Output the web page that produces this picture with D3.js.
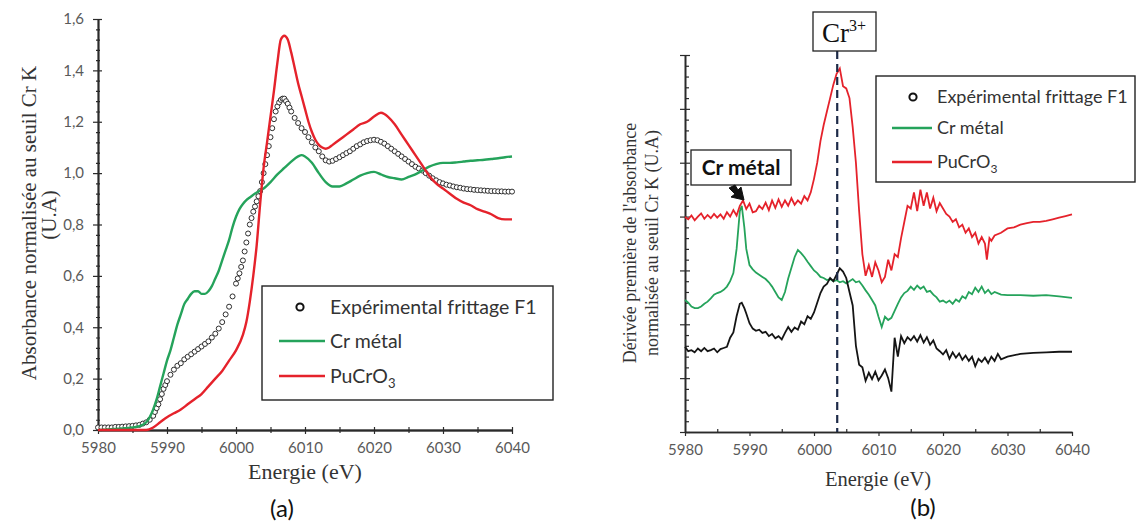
<!DOCTYPE html>
<html>
<head>
<meta charset="utf-8">
<script src="https://cdn.jsdelivr.net/npm/d3@7"></script>
<style>
body{margin:0;background:#fff}
svg{display:block}
</style>
</head>
<body>
<svg id="chart" width="1137" height="522"></svg>
<script>

// ---- panel (a) : normalised absorbance ----
const xTicksA = [5980,5990,6000,6010,6020,6030,6040];
const yTicksA = [0,0.2,0.4,0.6,0.8,1.0,1.2,1.4,1.6];

const expA = [
[5980,0.01],[5980.5,0.01],[5981,0.01],[5981.5,0.01],[5982,0.01],[5982.5,0.012],[5983,0.012],[5983.5,0.013],
[5984,0.014],[5984.5,0.015],[5985,0.016],[5985.5,0.018],[5986,0.02],[5986.5,0.025],[5987,0.03],[5987.5,0.04],
[5988,0.055],[5988.25,0.07],[5988.5,0.085],[5988.75,0.1],[5989,0.12],[5989.25,0.14],[5989.5,0.16],[5989.75,0.175],
[5990,0.19],[5990.5,0.215],[5991,0.235],[5991.5,0.25],
[5992,0.26],[5992.5,0.275],[5993,0.285],[5993.5,0.295],[5994,0.305],[5994.5,0.315],[5995,0.325],[5995.5,0.335],
[5996,0.345],[5996.5,0.36],[5997,0.375],[5997.5,0.395],[5998,0.42],[5998.5,0.45],[5999,0.48],[5999.5,0.52],
[6000,0.57],[6000.25,0.59],[6000.5,0.61],[6000.75,0.635],[6001,0.66],[6001.25,0.695],[6001.5,0.73],[6001.75,0.765],
[6002,0.8],[6002.25,0.825],[6002.5,0.85],[6002.75,0.87],[6003,0.89],[6003.25,0.91],[6003.5,0.93],[6003.75,0.965],
[6004,1.0],[6004.25,1.035],[6004.5,1.07],[6004.75,1.105],[6005,1.14],[6005.25,1.175],[6005.5,1.21],[6005.75,1.24],
[6006,1.26],[6006.25,1.275],[6006.5,1.285],[6006.75,1.29],[6007,1.29],[6007.25,1.28],[6007.5,1.27],[6007.75,1.255],
[6008,1.24],[6008.5,1.215],[6009,1.195],[6009.5,1.175],[6010,1.16],[6010.5,1.14],[6011,1.12],[6011.5,1.1],
[6012,1.085],[6012.5,1.065],[6013,1.05],[6013.5,1.045],[6014,1.048],[6014.5,1.055],[6015,1.062],[6015.5,1.07],
[6016,1.078],[6016.5,1.085],[6017,1.095],[6017.5,1.105],[6018,1.112],[6018.5,1.12],[6019,1.125],[6019.5,1.128],
[6020,1.13],[6020.5,1.128],[6021,1.122],[6021.5,1.115],[6022,1.105],[6022.5,1.095],[6023,1.085],[6023.5,1.075],
[6024,1.065],[6024.5,1.055],[6025,1.045],[6025.5,1.035],[6026,1.025],[6026.5,1.018],[6027,1.01],[6027.5,1.0],
[6028,0.99],[6028.5,0.98],[6029,0.972],[6029.5,0.965],[6030,0.96],[6030.5,0.955],[6031,0.952],[6031.5,0.948],
[6032,0.945],[6032.5,0.943],[6033,0.94],[6033.5,0.938],[6034,0.937],[6034.5,0.935],[6035,0.934],[6035.5,0.933],
[6036,0.932],[6036.5,0.931],[6037,0.93],[6037.5,0.93],[6038,0.929],[6038.5,0.929],[6039,0.928],[6039.5,0.928],[6040,0.928]
];

const crMetalA = [
[5980,0.0],[5983,0.005],[5985,0.01],[5986,0.015],[5987,0.03],[5987.5,0.05],[5988,0.08],[5988.5,0.12],
[5989,0.17],[5989.5,0.22],[5990,0.27],[5990.5,0.31],[5991,0.36],[5991.5,0.41],[5992,0.45],[5992.5,0.49],
[5993,0.51],[5993.5,0.53],[5994,0.54],[5994.5,0.54],[5995,0.53],[5995.5,0.53],[5996,0.54],[5996.5,0.56],
[5997,0.59],[5997.5,0.62],[5998,0.66],[5998.5,0.7],[5999,0.74],[5999.5,0.79],[6000,0.83],[6000.5,0.86],
[6001,0.88],[6001.5,0.895],[6002,0.905],[6003,0.925],[6004,0.94],[6005,0.965],[6006,0.995],[6007,1.02],
[6008,1.045],[6009,1.065],[6009.5,1.07],[6010,1.065],[6011,1.04],[6012,1.0],[6013,0.965],[6014,0.948],
[6015,0.948],[6016,0.96],[6017,0.975],[6018,0.99],[6019,1.0],[6020,1.005],[6021,0.995],[6022,0.985],
[6023,0.98],[6024,0.975],[6025,0.985],[6026,0.995],[6027,1.01],[6028,1.025],[6029,1.035],[6030,1.04],
[6031,1.04],[6032,1.042],[6033,1.045],[6034,1.048],[6035,1.05],[6036,1.052],[6037,1.055],[6038,1.058],
[6039,1.062],[6040,1.065]
];

const pucroA = [
[5980,0.0],[5984,0.0],[5987,0.0],[5988,0.01],[5989,0.03],[5990,0.05],[5991,0.065],[5992,0.08],
[5993,0.1],[5994,0.12],[5995,0.14],[5996,0.17],[5997,0.2],[5998,0.23],[5999,0.27],[6000,0.31],
[6001,0.37],[6001.5,0.42],[6002,0.5],[6002.5,0.6],[6003,0.72],[6003.5,0.88],[6004,1.02],[6004.5,1.12],
[6005,1.22],[6005.5,1.32],[6006,1.43],[6006.5,1.52],[6007,1.535],[6007.5,1.52],[6008,1.47],[6008.5,1.41],
[6009,1.35],[6009.5,1.3],[6010,1.25],[6010.5,1.2],[6011,1.16],[6011.5,1.13],[6012,1.11],[6012.5,1.1],
[6013,1.095],[6013.5,1.1],[6014,1.11],[6015,1.13],[6016,1.15],[6017,1.17],[6018,1.19],[6019,1.2],
[6020,1.22],[6021,1.235],[6021.5,1.23],[6022,1.22],[6023,1.19],[6024,1.15],[6025,1.11],[6026,1.07],
[6027,1.03],[6028,0.99],[6029,0.96],[6030,0.94],[6031,0.92],[6032,0.9],[6033,0.885],[6034,0.875],
[6035,0.86],[6036,0.85],[6037,0.84],[6038,0.825],[6039,0.82],[6040,0.82]
];

// ---- panel (b) : first derivative (arbitrary units, stacked) ----
const xTicksB = [5980,5990,6000,6010,6020,6030,6040];
const yTicksB = [0,1,2,3,4,5,6,7];
const cr3Energy = 6003.6;

const expB = [
[5980,1.58],[5980.5,1.5],[5981,1.52],[5981.5,1.48],[5982,1.55],[5982.5,1.5],[5983,1.56],[5983.5,1.5],
[5984,1.52],[5984.5,1.55],[5985,1.48],[5985.5,1.54],[5986,1.56],[5986.5,1.58],[5987,1.75],[5987.5,1.85],
[5988,2.15],[5988.5,2.38],[5988.8,2.4],[5989.2,2.3],[5989.5,2.2],[5990,2.02],[5990.5,1.92],[5991,1.88],
[5991.5,1.9],[5992,1.84],[5992.5,1.86],[5993,1.78],[5993.5,1.82],[5994,1.74],[5994.5,1.78],[5995,1.72],
[5995.5,1.84],[5996,1.95],[5996.5,1.86],[5997,1.94],[5997.5,1.9],[5998,2.05],[5998.5,2.0],[5999,2.15],
[5999.5,2.1],[6000,2.22],[6000.5,2.4],[6001,2.58],[6001.5,2.7],[6002,2.75],[6002.5,2.86],[6003,2.8],
[6003.5,2.92],[6004,3.04],[6004.5,2.98],[6005,2.86],[6005.5,2.6],[6006,2.35],[6006.5,1.6],[6007,1.25],
[6007.5,1.2],[6008,0.95],[6008.5,1.1],[6009,0.98],[6009.5,1.12],[6010,0.96],[6010.5,1.05],[6011,1.16],
[6011.5,1.0],[6012,0.75],[6012.5,1.75],[6013,1.4],[6013.5,1.78],[6014,1.65],[6014.5,1.76],[6015,1.7],
[6015.5,1.78],[6016,1.68],[6016.5,1.8],[6017,1.66],[6017.5,1.76],[6018,1.62],[6018.5,1.7],[6019,1.55],
[6019.5,1.5],[6020,1.44],[6020.5,1.52],[6021,1.36],[6021.5,1.48],[6022,1.38],[6022.5,1.46],[6023,1.34],
[6023.5,1.42],[6024,1.32],[6024.5,1.4],[6025,1.22],[6025.5,1.36],[6026,1.3],[6026.5,1.38],[6027,1.28],
[6027.5,1.4],[6028,1.32],[6028.5,1.45],[6029,1.35],[6030,1.4],[6032,1.45],[6034,1.47],[6036,1.48],
[6038,1.49],[6040,1.49]
];

const crMetalB = [
[5980,2.45],[5980.5,2.4],[5981,2.33],[5981.5,2.3],[5982,2.3],[5982.5,2.33],[5983,2.38],[5983.5,2.42],
[5984,2.48],[5984.5,2.55],[5985,2.58],[5985.5,2.6],[5986,2.64],[5986.5,2.7],[5987,2.8],[5987.5,2.95],
[5988,3.4],[5988.5,4.1],[5988.8,4.2],[5989.2,3.8],[5989.5,3.4],[5990,3.1],[5990.5,3.02],[5991,2.96],
[5991.5,2.92],[5992,2.88],[5992.5,2.84],[5993,2.78],[5993.5,2.7],[5994,2.6],[5994.5,2.5],[5995,2.45],
[5995.5,2.6],[5996,2.85],[5996.5,3.05],[5997,3.25],[5997.5,3.38],[5998,3.32],[5998.5,3.25],[5999,3.16],
[5999.5,3.08],[6000,3.0],[6000.5,2.95],[6001,2.88],[6001.5,2.86],[6002,2.82],[6002.5,2.84],[6003,2.8],
[6003.5,2.82],[6004,2.78],[6004.5,2.8],[6005,2.76],[6005.5,2.8],[6006,2.84],[6006.5,2.78],[6007,2.8],
[6007.5,2.72],[6008,2.63],[6008.5,2.55],[6009,2.45],[6009.5,2.35],[6010,2.14],[6010.5,1.95],[6011,2.14],
[6011.5,2.08],[6012,2.12],[6012.5,2.25],[6013,2.38],[6013.5,2.5],[6014,2.58],[6014.5,2.62],[6015,2.7],
[6015.5,2.64],[6016,2.72],[6016.5,2.66],[6017,2.7],[6017.5,2.6],[6018,2.62],[6018.5,2.55],[6019,2.5],
[6019.5,2.42],[6020,2.44],[6020.5,2.4],[6021,2.44],[6021.5,2.38],[6022,2.46],[6022.5,2.42],[6023,2.52],
[6023.5,2.48],[6024,2.6],[6024.5,2.56],[6025,2.68],[6025.5,2.6],[6026,2.7],[6026.5,2.58],[6027,2.64],
[6027.5,2.56],[6028,2.6],[6029,2.55],[6030,2.54],[6032,2.54],[6034,2.53],[6036,2.54],[6038,2.52],[6040,2.49]
];

const pucroB = [
[5980,3.99],[5980.5,3.95],[5981,4.02],[5981.5,3.93],[5982,4.0],[5982.5,4.06],[5983,3.96],[5983.5,4.03],
[5984,3.97],[5984.5,4.05],[5985,3.98],[5985.5,4.04],[5986,3.96],[5986.5,4.08],[5987,4.0],[5987.5,4.12],
[5988,4.02],[5988.5,4.2],[5989,4.3],[5989.5,4.14],[5990,4.24],[5990.5,4.08],[5991,4.1],[5991.5,4.2],
[5992,4.14],[5992.5,4.26],[5993,4.12],[5993.5,4.3],[5994,4.16],[5994.5,4.32],[5995,4.18],[5995.5,4.3],
[5996,4.2],[5996.5,4.34],[5997,4.22],[5997.5,4.3],[5998,4.24],[5998.5,4.38],[5999,4.3],[5999.5,4.45],
[6000,4.7],[6000.5,5.0],[6001,5.4],[6001.5,5.7],[6002,5.95],[6002.5,6.2],[6003,6.45],[6003.5,6.65],
[6004,6.75],[6004.5,6.42],[6005,6.38],[6005.5,6.2],[6006,5.66],[6006.5,5.0],[6007,4.1],[6007.5,3.3],
[6008,2.9],[6008.5,3.1],[6009,2.88],[6009.5,3.15],[6010,3.0],[6010.5,2.78],[6011,2.88],[6011.5,3.2],
[6012,3.0],[6012.5,3.3],[6013,3.25],[6013.5,3.6],[6014,3.9],[6014.5,4.2],[6015,4.15],[6015.5,4.45],
[6016,4.1],[6016.5,4.5],[6017,4.2],[6017.5,4.45],[6018,4.15],[6018.5,4.35],[6019,4.1],[6019.5,4.25],
[6020,4.15],[6020.5,4.05],[6021,4.0],[6021.5,3.9],[6022,3.95],[6022.5,3.8],[6023,3.85],[6023.5,3.7],
[6024,3.78],[6024.5,3.62],[6025,3.7],[6025.5,3.5],[6026,3.62],[6026.5,3.5],[6026.8,3.2],[6027.2,3.6],
[6027.5,3.55],[6028,3.65],[6029,3.7],[6030,3.78],[6031,3.8],[6032,3.85],[6033,3.88],[6034,3.9],
[6035,3.9],[6036,3.92],[6037,3.95],[6038,3.98],[6039,4.01],[6040,4.04]
];

const legendLabels = ["Expérimental frittage F1","Cr métal","PuCrO"];

const RED = "#e5222b";
const GREEN = "#25a35b";
const BLACK = "#151515";
const SANS = "Lato, 'Open Sans', sans-serif";
const SERIF = "'Liberation Serif', 'DejaVu Serif', serif";

const svg = d3.select("#chart");

// helper : axis styling
function styleAxis(g){
    g.select(".domain").attr("stroke","#2a2a2a").attr("stroke-width",1.4);
    g.selectAll(".tick line").attr("stroke","#2a2a2a").attr("stroke-width",1.2);
    g.selectAll(".tick text")
        .attr("fill","#5a5a5a")
        .attr("font-family",SANS)
        .attr("font-size",15);
}

function minors(lo, hi, step, majorStep){
    const out = [];
    for (let v = lo; v <= hi + 1e-9; v += step){
        const r = Math.round(v*1000)/1000;
        if (Math.abs(r/majorStep - Math.round(r/majorStep)) > 1e-6) out.push(r);
    }
    return out;
}

//----------------------------------------------------------------
// Panel (a)
//----------------------------------------------------------------

const xA = d3.scaleLinear().domain([5980,6040]).range([98,512]);
const yA = d3.scaleLinear().domain([0,1.6]).range([430,19]);

const gA = svg.append("g");

// y axis
gA.append("g")
    .attr("transform","translate(98,0)")
    .call(d3.axisRight(yA).tickValues(minors(0,1.6,0.04,0.2)).tickSize(2).tickFormat("").tickSizeOuter(0))
    .call(styleAxis);
gA.append("g")
    .attr("transform","translate(98,0)")
    .call(d3.axisLeft(yA).tickValues(minors(0,1.6,0.04,0.2)).tickSize(2).tickFormat("").tickSizeOuter(0))
    .call(styleAxis);
gA.append("g")
    .attr("transform","translate(98,0)")
    .call(d3.axisRight(yA).tickValues(yTicksA).tickSize(4).tickFormat("").tickSizeOuter(0))
    .call(styleAxis);
gA.append("g")
    .attr("transform","translate(98,0)")
    .call(d3.axisLeft(yA).tickValues(yTicksA).tickSize(5).tickPadding(9).tickSizeOuter(0)
        .tickFormat(d => d3.format(".1f")(d).replace(".",",")))
    .call(styleAxis);

// x axis
gA.append("g")
    .attr("transform","translate(0,430)")
    .call(d3.axisTop(xA).tickValues(d3.range(5985,6040,10)).tickSize(3).tickFormat("").tickSizeOuter(0))
    .call(styleAxis);
gA.append("g")
    .attr("transform","translate(0,430)")
    .call(d3.axisBottom(xA).tickValues(d3.range(5985,6040,10)).tickSize(3).tickFormat("").tickSizeOuter(0))
    .call(styleAxis);
gA.append("g")
    .attr("transform","translate(0,430)")
    .call(d3.axisTop(xA).tickValues(xTicksA).tickSize(3).tickFormat("").tickSizeOuter(0))
    .call(styleAxis);
gA.append("g")
    .attr("transform","translate(0,430)")
    .call(d3.axisBottom(xA).tickValues(xTicksA).tickSize(4).tickPadding(8).tickSizeOuter(0).tickFormat(d3.format("d")))
    .call(styleAxis);

const lineA = d3.line().x(d => xA(d[0])).y(d => yA(d[1])).curve(d3.curveMonotoneX);

gA.append("g")
    .selectAll("circle")
    .data(expA)
    .enter()
    .append("circle")
    .attr("cx", d => xA(d[0]))
    .attr("cy", d => yA(d[1]))
    .attr("r", 2.5)
    .attr("fill", "#fff")
    .attr("stroke", "#2e2e2e")
    .attr("stroke-width", 1);

gA.append("path").datum(crMetalA)
    .attr("d", lineA).attr("fill","none").attr("stroke",GREEN).attr("stroke-width",2.4);
gA.append("path").datum(pucroA)
    .attr("d", lineA).attr("fill","none").attr("stroke",RED).attr("stroke-width",2.4);

// axis titles
gA.append("text")
    .attr("x",305).attr("y",479)
    .attr("text-anchor","middle")
    .attr("font-family",SERIF).attr("font-size",22).attr("fill","#333")
    .text("Energie (eV)");
gA.append("text")
    .attr("transform","translate(36,223) rotate(-90)")
    .attr("text-anchor","middle")
    .attr("font-family",SERIF).attr("font-size",21).attr("fill","#333")
    .text("Absorbance normalisée au seuil Cr K");
gA.append("text")
    .attr("transform","translate(56,215) rotate(-90)")
    .attr("text-anchor","middle")
    .attr("font-family",SERIF).attr("font-size",21).attr("fill","#333")
    .text("(U.A)");

gA.append("text")
    .attr("x",282).attr("y",517)
    .attr("text-anchor","middle")
    .attr("font-family",SANS).attr("font-size",24).attr("fill","#111")
    .text("(a)");

// legends
function drawLegend(g, x0, y0, w, h, rows, symX, lineX0, lineX1, textX, fs){
    g.append("rect")
        .attr("x",x0).attr("y",y0).attr("width",w).attr("height",h)
        .attr("fill","#fff").attr("stroke","#222").attr("stroke-width",1.4);
    g.append("circle")
        .attr("cx",symX).attr("cy",rows[0])
        .attr("r",3.6).attr("fill","none").attr("stroke","#111").attr("stroke-width",2);
    g.append("line")
        .attr("x1",lineX0).attr("x2",lineX1).attr("y1",rows[1]).attr("y2",rows[1])
        .attr("stroke",GREEN).attr("stroke-width",2.6);
    g.append("line")
        .attr("x1",lineX0).attr("x2",lineX1).attr("y1",rows[2]).attr("y2",rows[2])
        .attr("stroke",RED).attr("stroke-width",2.6);
    rows.forEach((ry,i) => {
        const t = g.append("text")
            .attr("x",textX).attr("y",ry + fs*0.36)
            .attr("font-family",SANS).attr("font-size",fs).attr("fill","#333")
            .text(legendLabels[i]);
        if (i === 2){
            t.append("tspan").attr("dy",fs*0.25).attr("font-size",fs*0.67).text("3");
        }
    });
}

drawLegend(gA, 262, 286, 291, 114, [307,341,376], 300, 279, 325, 330, 19.5);

//----------------------------------------------------------------
// Panel (b)
//----------------------------------------------------------------

const xB = d3.scaleLinear().domain([5980,6040]).range([685,1072]);
const yB = d3.scaleLinear().domain([0,7]).range([432,55]);

const gB = svg.append("g");

gB.append("g")
    .attr("transform","translate(685,0)")
    .call(d3.axisRight(yB).tickValues(minors(0,7,0.2,1)).tickSize(4).tickFormat("").tickSizeOuter(0))
    .call(styleAxis);
gB.append("g")
    .attr("transform","translate(685,0)")
    .call(d3.axisRight(yB).tickValues(yTicksB).tickSize(5).tickFormat("").tickSizeOuter(0))
    .call(styleAxis);
gB.append("g")
    .attr("transform","translate(685,0)")
    .call(d3.axisLeft(yB).tickValues(yTicksB).tickSize(5).tickFormat("").tickSizeOuter(0))
    .call(styleAxis);

gB.append("g")
    .attr("transform","translate(0,432)")
    .call(d3.axisTop(xB).tickValues(d3.range(5985,6040,10)).tickSize(3).tickFormat("").tickSizeOuter(0))
    .call(styleAxis);
gB.append("g")
    .attr("transform","translate(0,432)")
    .call(d3.axisBottom(xB).tickValues(xTicksB).tickSize(4).tickPadding(8).tickSizeOuter(0).tickFormat(d3.format("d")))
    .call(styleAxis);

const lineB = d3.line().x(d => xB(d[0])).y(d => yB(d[1]));

gB.append("path").datum(crMetalB)
    .attr("d", lineB).attr("fill","none").attr("stroke",GREEN).attr("stroke-width",1.8);
gB.append("path").datum(expB)
    .attr("d", lineB).attr("fill","none").attr("stroke",BLACK).attr("stroke-width",1.8);
gB.append("path").datum(pucroB)
    .attr("d", lineB).attr("fill","none").attr("stroke",RED).attr("stroke-width",1.8);

// Cr3+ marker
gB.append("line")
    .attr("x1",xB(cr3Energy)).attr("x2",xB(cr3Energy))
    .attr("y1",51).attr("y2",432)
    .attr("stroke","#1d2a48").attr("stroke-width",2.2)
    .attr("stroke-dasharray","8,5");

gB.append("rect")
    .attr("x",813).attr("y",12).attr("width",63).attr("height",39)
    .attr("fill","#fff").attr("stroke","#222").attr("stroke-width",1.3);
const crTxt = gB.append("text")
    .attr("x",844).attr("y",42)
    .attr("text-anchor","middle")
    .attr("font-family",SERIF).attr("font-size",27).attr("fill","#111")
    .text("Cr");
crTxt.append("tspan").attr("dy",-11).attr("font-size",16).text("3+");

// "Cr métal" callout
gB.append("rect")
    .attr("x",691).attr("y",150).attr("width",100).attr("height",35)
    .attr("fill","#fff").attr("stroke","#222").attr("stroke-width",1.3);
gB.append("text")
    .attr("x",741).attr("y",175)
    .attr("text-anchor","middle")
    .attr("font-family",SANS).attr("font-size",21).attr("font-weight","bold").attr("fill","#111")
    .text("Cr métal");
gB.append("path")
    .attr("d","M729,188 L735,185 L738,190 L741,187 L744,200 L731,197 L735,194 Z")
    .attr("fill","#111").attr("stroke","#111").attr("stroke-width",1);

// titles
gB.append("text")
    .attr("x",878).attr("y",486)
    .attr("text-anchor","middle")
    .attr("font-family",SERIF).attr("font-size",20.5).attr("fill","#333")
    .text("Energie (eV)");
gB.append("text")
    .attr("transform","translate(636,243) rotate(-90)")
    .attr("text-anchor","middle")
    .attr("font-family",SERIF).attr("font-size",18).attr("fill","#333")
    .text("Dérivée première de l'absorbance");
gB.append("text")
    .attr("transform","translate(658,243) rotate(-90)")
    .attr("text-anchor","middle")
    .attr("font-family",SERIF).attr("font-size",18).attr("fill","#333")
    .text("normalisée au seuil Cr K  (U.A)");

gB.append("text")
    .attr("x",923).attr("y",516)
    .attr("text-anchor","middle")
    .attr("font-family",SANS).attr("font-size",24).attr("fill","#111")
    .text("(b)");

drawLegend(gB, 876, 76, 259, 106, [97,128,162], 913, 892, 932, 937, 18);

</script>
</body>
</html>
